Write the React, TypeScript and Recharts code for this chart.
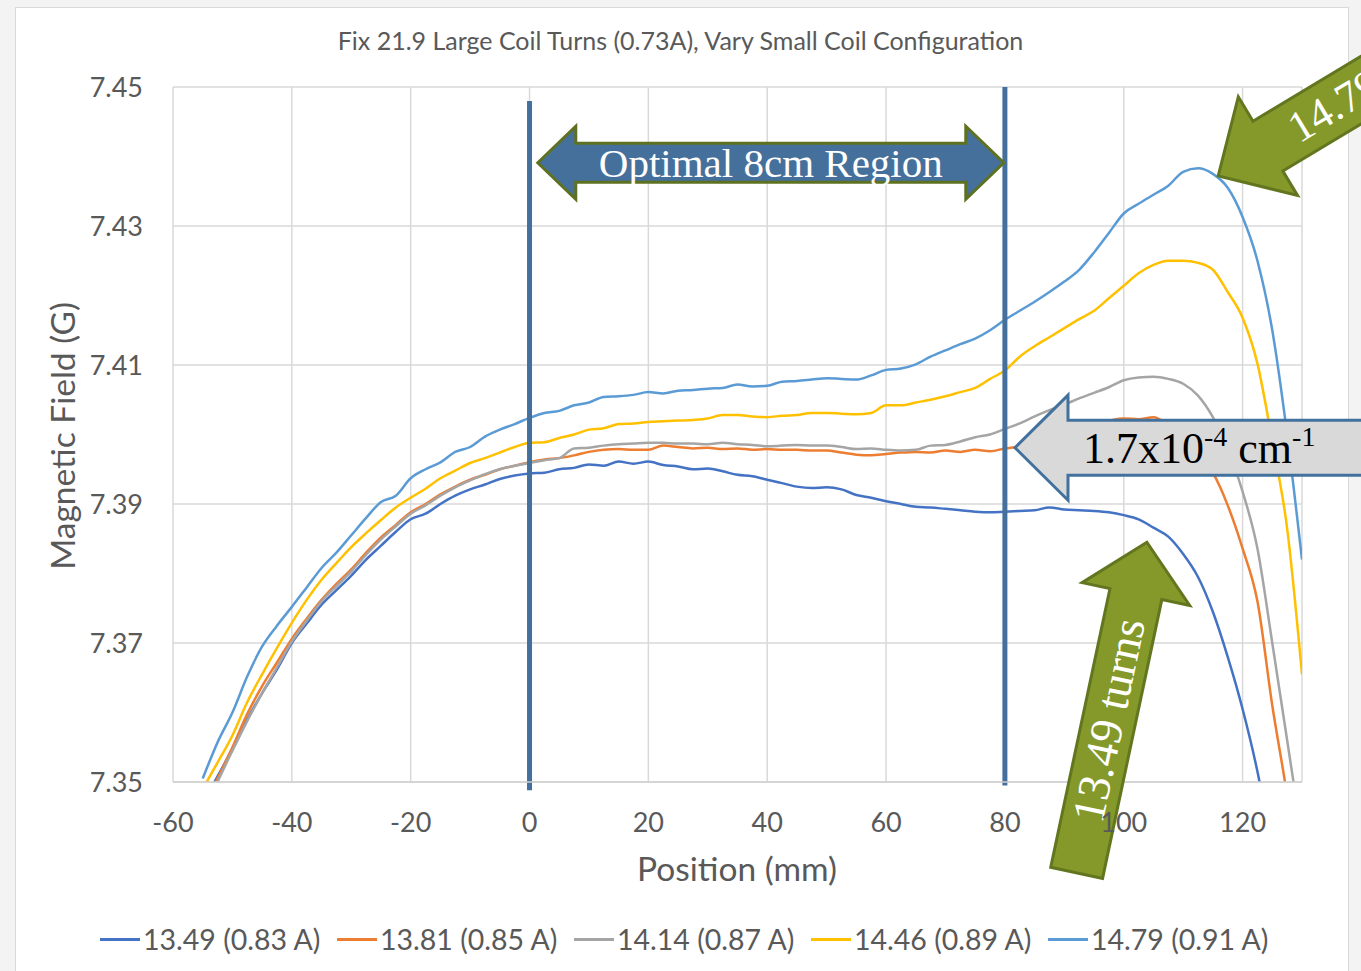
import React from 'react';
import { LineChart, Line, XAxis, YAxis, CartesianGrid, ReferenceLine, ReferenceDot } from 'recharts';

const positions = [
  -55, -52.5, -50, -47.5, -45, -42.5, -40, -37.5, -35, -32.5, -30, -27.5, -25, -22.5, -20, -17.5, -15, -12.5, -10, -7.5,
  -5, -2.5, 0, 2.5, 5, 7.5, 10, 12.5, 15, 17.5, 20, 22.5, 25, 27.5, 30, 32.5, 35, 37.5, 40, 42.5,
  45, 47.5, 50, 52.5, 55, 57.5, 60, 62.5, 65, 67.5, 70, 72.5, 75, 77.5, 80, 82.5, 85, 87.5, 90, 92.5,
  95, 97.5, 100, 102.5, 105, 107.5, 110, 112.5, 115, 117.5, 120, 122.5, 125, 127.5, 130,
];

const field1349 = [
  7.3470, 7.3508, 7.3548, 7.3590, 7.3628, 7.3662, 7.3700, 7.3728, 7.3755, 7.3776, 7.3797, 7.3820, 7.3840, 7.3860, 7.3878, 7.3886, 7.3900, 7.3912, 7.3921, 7.3928,
  7.3936, 7.3941, 7.3944, 7.3945, 7.3950, 7.3952, 7.3957, 7.3955, 7.3961, 7.3958, 7.3961, 7.3956, 7.3954, 7.3950, 7.3951, 7.3947, 7.3942, 7.3940, 7.3935, 7.3930,
  7.3925, 7.3923, 7.3924, 7.3921, 7.3913, 7.3909, 7.3904, 7.3900, 7.3896, 7.3895, 7.3893, 7.3891, 7.3889, 7.3888, 7.3889, 7.3890, 7.3891, 7.3895, 7.3892, 7.3891,
  7.3890, 7.3888, 7.3884, 7.3878, 7.3866, 7.3853, 7.3828, 7.3795, 7.3745, 7.3680, 7.3605, 7.3515, 7.3400, 7.3270, 7.3120,
];

const field1381 = [
  7.3460, 7.3505, 7.3550, 7.3598, 7.3638, 7.3672, 7.3706, 7.3735, 7.3762, 7.3785, 7.3806, 7.3830, 7.3852, 7.3870, 7.3888, 7.3900, 7.3914, 7.3925, 7.3935, 7.3942,
  7.3950, 7.3955, 7.3960, 7.3964, 7.3966, 7.3970, 7.3975, 7.3978, 7.3979, 7.3978, 7.3978, 7.3984, 7.3982, 7.3980, 7.3981, 7.3979, 7.3980, 7.3978, 7.3979, 7.3978,
  7.3978, 7.3977, 7.3977, 7.3974, 7.3971, 7.3970, 7.3972, 7.3974, 7.3975, 7.3974, 7.3977, 7.3975, 7.3978, 7.3976, 7.3980, 7.3983, 7.3990, 7.3998, 7.4004, 7.4010,
  7.4016, 7.4020, 7.4023, 7.4022, 7.4025, 7.4014, 7.3998, 7.3975, 7.3945, 7.3898, 7.3836, 7.3760, 7.3610, 7.3480, 7.3320,
];

const field1414 = [
  7.3450, 7.3500, 7.3545, 7.3588, 7.3628, 7.3665, 7.3702, 7.3732, 7.3760, 7.3782, 7.3803, 7.3827, 7.3849, 7.3868, 7.3886, 7.3898, 7.3912, 7.3924, 7.3934, 7.3943,
  7.3950, 7.3955, 7.3959, 7.3963, 7.3966, 7.3980, 7.3981, 7.3984, 7.3986, 7.3987, 7.3988, 7.3988, 7.3987, 7.3987, 7.3986, 7.3988, 7.3986, 7.3985, 7.3983, 7.3984,
  7.3985, 7.3984, 7.3984, 7.3982, 7.3979, 7.3980, 7.3978, 7.3977, 7.3978, 7.3984, 7.3985, 7.3990, 7.3996, 7.4000, 7.4008, 7.4016, 7.4026, 7.4035, 7.4043, 7.4052,
  7.4060, 7.4068, 7.4078, 7.4082, 7.4083, 7.4080, 7.4073, 7.4056, 7.4025, 7.3980, 7.3918, 7.3836, 7.3700, 7.3560, 7.3420,
];

const field1446 = [
  7.3490, 7.3528, 7.3567, 7.3615, 7.3655, 7.3693, 7.3729, 7.3762, 7.3791, 7.3815, 7.3838, 7.3858, 7.3877, 7.3895, 7.3909, 7.3922, 7.3937, 7.3948, 7.3959, 7.3966,
  7.3974, 7.3982, 7.3988, 7.3989, 7.3995, 7.4000, 7.4007, 7.4009, 7.4015, 7.4016, 7.4018, 7.4019, 7.4020, 7.4021, 7.4023, 7.4028, 7.4028, 7.4026, 7.4025, 7.4027,
  7.4028, 7.4031, 7.4031, 7.4030, 7.4029, 7.4031, 7.4042, 7.4042, 7.4046, 7.4050, 7.4055, 7.4061, 7.4067, 7.4080, 7.4092, 7.4112, 7.4127, 7.4140, 7.4153, 7.4166,
  7.4178, 7.4196, 7.4214, 7.4232, 7.4244, 7.4250, 7.4250, 7.4247, 7.4237, 7.4205, 7.4168, 7.4102, 7.3990, 7.3865, 7.3655,
];

const field1479 = [
  7.3505, 7.3557, 7.3600, 7.3652, 7.3695, 7.3725, 7.3752, 7.3780, 7.3808, 7.3830, 7.3855, 7.3880, 7.3903, 7.3912, 7.3937, 7.3950, 7.3960, 7.3975, 7.3982, 7.3997,
  7.4007, 7.4015, 7.4024, 7.4031, 7.4034, 7.4042, 7.4046, 7.4054, 7.4055, 7.4057, 7.4061, 7.4059, 7.4063, 7.4064, 7.4066, 7.4067, 7.4072, 7.4069, 7.4070, 7.4076,
  7.4077, 7.4079, 7.4081, 7.4080, 7.4079, 7.4085, 7.4093, 7.4095, 7.4101, 7.4112, 7.4121, 7.4130, 7.4138, 7.4150, 7.4165, 7.4178, 7.4191, 7.4205, 7.4220, 7.4237,
  7.4262, 7.4290, 7.4318, 7.4332, 7.4345, 7.4358, 7.4378, 7.4383, 7.4375, 7.4355, 7.4313, 7.4250, 7.4150, 7.4000, 7.3820,
];

const xTicks = [-60, -40, -20, 0, 20, 40, 60, 80, 100, 120];
const yTicks = [7.35, 7.37, 7.39, 7.41, 7.43, 7.45];

const series = [
  { key: 's1349', name: '13.49 (0.83 A)', color: '#4472C4', values: field1349 },
  { key: 's1381', name: '13.81 (0.85 A)', color: '#ED7D31', values: field1381 },
  { key: 's1414', name: '14.14 (0.87 A)', color: '#A5A5A5', values: field1414 },
  { key: 's1446', name: '14.46 (0.89 A)', color: '#FFC000', values: field1446 },
  { key: 's1479', name: '14.79 (0.91 A)', color: '#5B9BD5', values: field1479 },
];

const rows = positions.map((pos, i) => {
  const row: Record<string, number> = { pos };
  series.forEach(s => { row[s.key] = s.values[i]; });
  return row;
});

const TEXT = '#595959';
const SANS = 'Lato, "Open Sans", sans-serif';
const SERIF = '"Liberation Serif", "DejaVu Serif", serif';

interface ArrowProps {
  cx?: number;
  cy?: number;
  angle: number;
  length: number;
  headLength: number;
  headWidth: number;
  bodyWidth: number;
  fill: string;
  stroke: string;
  children?: React.ReactNode;
}

// single block arrow, tip sits at (cx, cy), body runs along +x before rotation
const BlockArrow = ({ cx = 0, cy = 0, angle, length, headLength, headWidth, bodyWidth, fill, stroke, children }: ArrowProps) => {
  const hw = headWidth / 2;
  const bw = bodyWidth / 2;
  const d = `M0,0 L${headLength},${-hw} L${headLength},${-bw} L${length},${-bw} L${length},${bw} L${headLength},${bw} L${headLength},${hw} Z`;
  return (
    <g transform={`translate(${cx},${cy}) rotate(${angle})`}>
      <path d={d} fill={fill} stroke={stroke} strokeWidth={3} />
      {children}
    </g>
  );
};

const DoubleArrow = ({ cx = 0, cy = 0 }: { cx?: number; cy?: number }) => {
  const half = 233, head = 38, hw = 36.5, bw = 19.5;
  const d = `M${-half},0 L${-half + head},${-hw} L${-half + head},${-bw} L${half - head},${-bw} L${half - head},${-hw} L${half},0 L${half - head},${hw} L${half - head},${bw} L${-half + head},${bw} L${-half + head},${hw} Z`;
  return (
    <g transform={`translate(${cx},${cy})`}>
      <path d={d} fill="#46709C" stroke="#5E7120" strokeWidth={3} />
      <text x={0} y={14} textAnchor="middle" fontFamily={SERIF} fontSize={41} fill="#fff">Optimal 8cm Region</text>
    </g>
  );
};

const GREEN = '#84992A';
const GREEN_EDGE = '#62761F';

export default function App() {
  return (
    <div style={{ position: 'absolute', left: 0, top: 0, width: 1361, height: 971, overflow: 'hidden', background: '#f3f3f3', fontFamily: SANS }}>
      <div style={{ position: 'absolute', left: 15, top: 7, width: 1332, height: 990, background: '#fff', border: '1px solid #d9d9d9' }} />
      <div style={{ position: 'absolute', left: 0, width: 1361, top: 25, textAlign: 'center', fontSize: 25, color: TEXT }}>
        Fix 21.9 Large Coil Turns (0.73A), Vary Small Coil Configuration
      </div>
      <div style={{ position: 'absolute', left: 62, top: 436, transform: 'translate(-50%, -50%) rotate(-90deg)', whiteSpace: 'nowrap', fontSize: 33.5, color: TEXT }}>
        Magnetic Field (G)
      </div>
      <div style={{ position: 'absolute', left: 0, width: 1474, top: 848, textAlign: 'center', fontSize: 33.5, color: TEXT }}>
        Position (mm)
      </div>
      <div style={{ position: 'absolute', left: 100, top: 921, display: 'flex', fontSize: 28.5, color: TEXT, lineHeight: '36px' }}>
        {series.map(s => (
          <div key={s.key} style={{ width: 237, display: 'flex', alignItems: 'center' }}>
            <span style={{ display: 'inline-block', width: 40, height: 3, background: s.color, marginRight: 3 }} />
            <span style={{ whiteSpace: 'nowrap' }}>{s.name}</span>
          </div>
        ))}
      </div>
      <div style={{ position: 'absolute', left: 0, top: 0 }}>
        <LineChart width={1361} height={971} data={rows} margin={{ top: 87, right: 59, left: 53, bottom: 90 }}>
          <CartesianGrid stroke="#d9d9d9" strokeWidth={1.5} />
          <XAxis
            dataKey="pos"
            type="number"
            domain={[-60, 130]}
            ticks={xTicks}
            allowDataOverflow
            height={99}
            tickLine={false}
            tickMargin={25}
            axisLine={{ stroke: '#d0d0d0', strokeWidth: 1.5 }}
            tick={{ fill: TEXT, fontSize: 27, fontFamily: SANS }}
          />
          <YAxis
            type="number"
            domain={[7.35, 7.45]}
            ticks={yTicks}
            allowDataOverflow
            width={120}
            axisLine={false}
            tickLine={false}
            tickMargin={24}
            tickFormatter={(v: number) => v.toFixed(2)}
            tick={{ fill: TEXT, fontSize: 27, fontFamily: SANS }}
          />
          {series.map(s => (
            <Line
              key={s.key}
              dataKey={s.key}
              name={s.name}
              type="monotone"
              stroke={s.color}
              strokeWidth={2.5}
              dot={false}
              activeDot={false}
              isAnimationActive={false}
            />
          ))}
          <ReferenceLine segment={[{ x: 0, y: 7.448 }, { x: 0, y: 7.3488 }]} stroke="#44709D" strokeWidth={5} ifOverflow="visible" zIndex={450} />
          <ReferenceLine segment={[{ x: 80, y: 7.45 }, { x: 80, y: 7.3495 }]} stroke="#44709D" strokeWidth={5} ifOverflow="visible" zIndex={450} />
          <ReferenceDot
            x={40.6}
            y={7.4391}
            ifOverflow="visible"
            zIndex={700}
            shape={(p: any) => <DoubleArrow cx={p.cx} cy={p.cy} />}
          />
          <ReferenceDot
            x={81.7}
            y={7.3981}
            ifOverflow="visible"
            zIndex={700}
            shape={(p: any) => (
              <BlockArrow cx={p.cx} cy={p.cy} angle={0} length={420} headLength={53} headWidth={105} bodyWidth={55} fill="#D9D9D9" stroke="#41719C">
                <text x={68} y={15} fontFamily={SERIF} fontSize={44} fill="#000">
                  1.7x10<tspan dy={-17} fontSize={28}>-4</tspan>
                  <tspan dy={17} fontSize={44}> cm</tspan>
                  <tspan dy={-17} fontSize={28}>-1</tspan>
                </text>
              </BlockArrow>
            )}
          />
          <ReferenceDot
            x={115.9}
            y={7.4372}
            ifOverflow="visible"
            zIndex={700}
            shape={(p: any) => (
              <BlockArrow cx={p.cx} cy={p.cy} angle={-31} length={300} headLength={58} headWidth={115} bodyWidth={58} fill={GREEN} stroke={GREEN_EDGE}>
                <text x={86} y={14} fontFamily={SERIF} fontSize={44} fill="#fff">14.79 turns</text>
              </BlockArrow>
            )}
          />
          <ReferenceDot
            x={103.9}
            y={7.3845}
            ifOverflow="visible"
            zIndex={700}
            shape={(p: any) => (
              <BlockArrow cx={p.cx} cy={p.cy} angle={102} length={338} headLength={53} headWidth={110} bodyWidth={53} fill={GREEN} stroke={GREEN_EDGE}>
                <g transform="translate(182,0) rotate(180)">
                  <text x={0} y={15} textAnchor="middle" fontFamily={SERIF} fontSize={46} fill="#fff">13.49 turns</text>
                </g>
              </BlockArrow>
            )}
          />
        </LineChart>
      </div>
    </div>
  );
}
